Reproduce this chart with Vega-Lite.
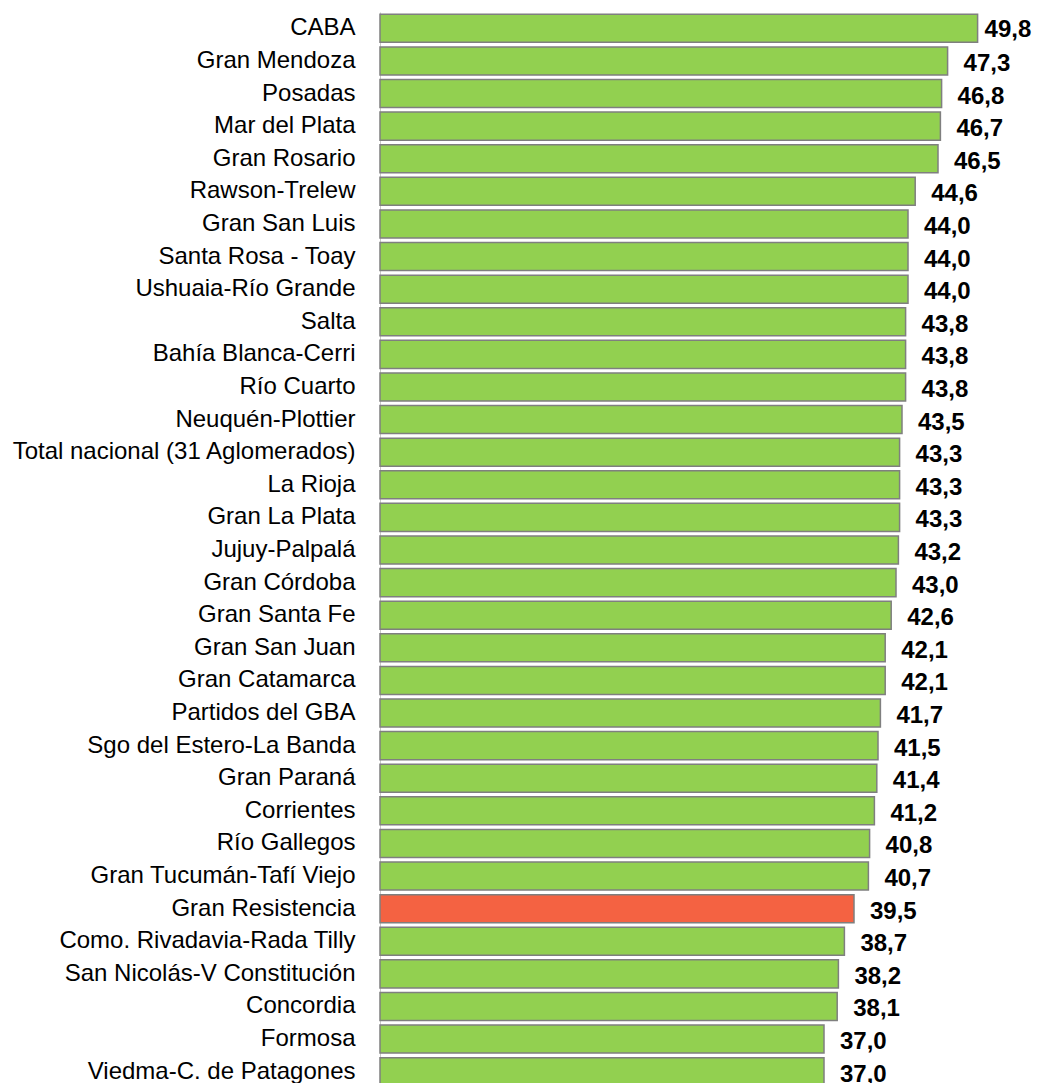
{
  "$schema": "https://vega.github.io/schema/vega-lite/v6.json",
  "autosize": "none",
  "padding": {"left": 380, "top": 12, "right": 1, "bottom": 0},
  "width": 660,
  "height": 1076,
  "background": "white",
  "config": {
    "view": {"stroke": null},
    "font": "Liberation Sans",
    "locale": {"number": {"decimal": ",", "thousands": ".", "grouping": [3], "currency": ["$", ""]}}
  },
  "data": {"values": [
    {"aglomerado": "CABA", "valor": 49.8, "grupo": "otro"},
    {"aglomerado": "Gran Mendoza", "valor": 47.3, "grupo": "otro"},
    {"aglomerado": "Posadas", "valor": 46.8, "grupo": "otro"},
    {"aglomerado": "Mar del Plata", "valor": 46.7, "grupo": "otro"},
    {"aglomerado": "Gran Rosario", "valor": 46.5, "grupo": "otro"},
    {"aglomerado": "Rawson-Trelew", "valor": 44.6, "grupo": "otro"},
    {"aglomerado": "Gran San Luis", "valor": 44.0, "grupo": "otro"},
    {"aglomerado": "Santa Rosa - Toay", "valor": 44.0, "grupo": "otro"},
    {"aglomerado": "Ushuaia-Río Grande", "valor": 44.0, "grupo": "otro"},
    {"aglomerado": "Salta", "valor": 43.8, "grupo": "otro"},
    {"aglomerado": "Bahía Blanca-Cerri", "valor": 43.8, "grupo": "otro"},
    {"aglomerado": "Río Cuarto", "valor": 43.8, "grupo": "otro"},
    {"aglomerado": "Neuquén-Plottier", "valor": 43.5, "grupo": "otro"},
    {"aglomerado": "Total nacional (31 Aglomerados)", "valor": 43.3, "grupo": "otro"},
    {"aglomerado": "La Rioja", "valor": 43.3, "grupo": "otro"},
    {"aglomerado": "Gran La Plata", "valor": 43.3, "grupo": "otro"},
    {"aglomerado": "Jujuy-Palpalá", "valor": 43.2, "grupo": "otro"},
    {"aglomerado": "Gran Córdoba", "valor": 43.0, "grupo": "otro"},
    {"aglomerado": "Gran Santa Fe", "valor": 42.6, "grupo": "otro"},
    {"aglomerado": "Gran San Juan", "valor": 42.1, "grupo": "otro"},
    {"aglomerado": "Gran Catamarca", "valor": 42.1, "grupo": "otro"},
    {"aglomerado": "Partidos del GBA", "valor": 41.7, "grupo": "otro"},
    {"aglomerado": "Sgo del Estero-La Banda", "valor": 41.5, "grupo": "otro"},
    {"aglomerado": "Gran Paraná", "valor": 41.4, "grupo": "otro"},
    {"aglomerado": "Corrientes", "valor": 41.2, "grupo": "otro"},
    {"aglomerado": "Río Gallegos", "valor": 40.8, "grupo": "otro"},
    {"aglomerado": "Gran Tucumán-Tafí Viejo", "valor": 40.7, "grupo": "otro"},
    {"aglomerado": "Gran Resistencia ", "valor": 39.5, "grupo": "destacado"},
    {"aglomerado": "Como. Rivadavia-Rada Tilly", "valor": 38.7, "grupo": "otro"},
    {"aglomerado": "San Nicolás-V Constitución", "valor": 38.2, "grupo": "otro"},
    {"aglomerado": "Concordia", "valor": 38.1, "grupo": "otro"},
    {"aglomerado": "Formosa", "valor": 37.0, "grupo": "otro"},
    {"aglomerado": "Viedma-C. de Patagones", "valor": 37.0, "grupo": "otro"}
  ]},
  "encoding": {
    "y": {
      "field": "aglomerado", "type": "nominal", "sort": null,
      "scale": {"paddingInner": 0.14, "paddingOuter": 0.07},
      "axis": {"title": null, "ticks": false, "labelFontSize": 24, "labelColor": "#000000", "labelPadding": 25, "domainColor": "#c8c8c8", "domainWidth": 1, "labelLimit": 500}
    },
    "x": {
      "field": "valor", "type": "quantitative",
      "scale": {"domain": [0, 55], "nice": false, "zero": true},
      "axis": null
    }
  },
  "layer": [
    {
      "mark": {"type": "bar", "stroke": "#7f7f7f", "strokeWidth": 1.5},
      "encoding": {
        "color": {"field": "grupo", "type": "nominal", "scale": {"domain": ["otro", "destacado"], "range": ["#92d050", "#f46242"]}, "legend": null}
      }
    },
    {
      "transform": [{"filter": "datum.aglomerado == 'CABA'"}],
      "mark": {"type": "text", "align": "left", "baseline": "middle", "dx": 7, "dy": 2, "fontSize": 24, "fontWeight": "bold", "color": "#000000"},
      "encoding": {"text": {"field": "valor", "type": "quantitative", "format": ".1f"}}
    },
    {
      "transform": [{"filter": "datum.aglomerado != 'CABA'"}],
      "mark": {"type": "text", "align": "left", "baseline": "middle", "dx": 16, "dy": 3, "fontSize": 24, "fontWeight": "bold", "color": "#000000"},
      "encoding": {"text": {"field": "valor", "type": "quantitative", "format": ".1f"}}
    }
  ]
}
